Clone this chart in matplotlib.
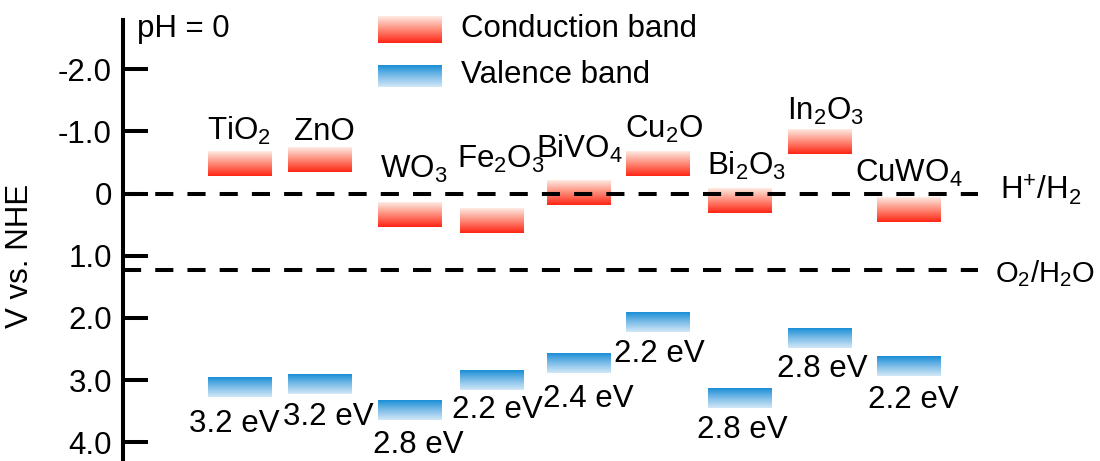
import numpy as np
import matplotlib
matplotlib.use("Agg")
import matplotlib.pyplot as plt
from matplotlib.colors import LinearSegmentedColormap

plt.rcParams["font.family"] = ["Liberation Sans", "DejaVu Sans"]
plt.rcParams["mathtext.fontset"] = "custom"
plt.rcParams["mathtext.rm"] = "Liberation Sans"

# --- data (V vs. NHE, pH = 0) ---
materials = [r"$\mathregular{TiO_2}$", "ZnO", r"$\mathregular{WO_3}$",
             r"$\mathregular{Fe_2O_3}$", r"$\mathregular{BiVO_4}$",
             r"$\mathregular{Cu_2O}$", r"$\mathregular{Bi_2O_3}$",
             r"$\mathregular{In_2O_3}$", r"$\mathregular{CuWO_4}$"]
cb_edge = [-0.28, -0.34, 0.54, 0.64, 0.19, -0.28, 0.31, -0.63, 0.45]
vb_edge = [2.95, 2.90, 3.32, 2.84, 2.56, 1.90, 3.12, 2.17, 2.61]
gap_labels = ["3.2 eV", "3.2 eV", "2.8 eV", "2.2 eV", "2.4 eV",
              "2.2 eV", "2.8 eV", "2.8 eV", "2.2 eV"]
h2_level = 0.0
o2_level = 1.23
yticks = [-2, -1, 0, 1, 2, 3, 4]
ytick_labels = ["-2.0", "-1.0", "0", "1.0", "2.0", "3.0", "4.0"]

# --- layout (x in pixel-like units) ---
x_center = [239.7, 319.7, 410, 492, 579, 658.3, 739.7, 819.7, 909]
bar_w = 64
cb_h, vb_h = 0.39, 0.32
name_x = [239, 324, 414, 501, 579, 664, 746, 826, 909]
name_y = [-0.86, -0.86, -0.25, -0.41, -0.58, -0.89, -0.30, -1.18, -0.18]
gap_x = [234, 328, 418, 497, 588, 659, 742, 822, 913]
gap_y = [3.84, 3.72, 4.17, 3.61, 3.43, 2.71, 3.93, 2.95, 3.45]

cb_cmap = LinearSegmentedColormap.from_list("cb", ["#fdebe3", "#fe8a78", "#ff2414"])
vb_cmap = LinearSegmentedColormap.from_list("vb", ["#1a8ed6", "#7dbde8", "#d2e8f7"])
grad = np.linspace(0, 1, 256).reshape(-1, 1)

FS = 22.5

fig = plt.figure(figsize=(11, 4.61), dpi=100)
ax = fig.add_axes([123 / 1100, 0, 1 - 123 / 1100, 441 / 461])


def gradient_bar(x0, y_top, y_bot, cmap):
    # image rows go top -> bottom since y axis is inverted
    im = ax.imshow(grad, cmap=cmap, aspect="auto", interpolation="bilinear",
                   extent=(x0, x0 + bar_w, y_bot, y_top), origin="upper")
    im.set_clip_on(False)


for i, name in enumerate(materials):
    x0 = x_center[i] - bar_w / 2
    gradient_bar(x0, cb_edge[i] - cb_h, cb_edge[i], cb_cmap)
    gradient_bar(x0, vb_edge[i], vb_edge[i] + vb_h, vb_cmap)
    ax.text(name_x[i], name_y[i], name, fontsize=FS, ha="center", va="baseline")
    ax.text(gap_x[i], gap_y[i], gap_labels[i], fontsize=FS, ha="center",
            va="baseline", clip_on=False)

# redox levels
for lvl in (h2_level, o2_level):
    ax.plot([123, 978], [lvl, lvl], color="black", lw=2.9, dashes=(4.5, 3.5),
            solid_capstyle="butt", dash_capstyle="butt", zorder=1)
ax.text(1000, 0.09, r"H$^{\mathregular{+}}$/H$_{\mathregular{2}}$", fontsize=FS,
        va="baseline", ha="left")
ax.text(995, 1.42, r"O$_{\mathregular{2}}$/H$_{\mathregular{2}}$O", fontsize=FS - 1.5,
        va="baseline", ha="left")

# legend (hand drawn)
gradient_bar(378, -2.84, -2.42, cb_cmap)
gradient_bar(378, -2.06, -1.71, vb_cmap)
ax.text(461, -2.51, "Conduction band", fontsize=FS, va="baseline", clip_on=False)
ax.text(461, -1.77, "Valence band", fontsize=FS, va="baseline")
ax.text(137, -2.51, "pH = 0", fontsize=FS, va="baseline", clip_on=False)

ax.set_xlim(123, 1100)
ax.set_ylim(4.30, -2.79)
for s in ("top", "right", "bottom"):
    ax.spines[s].set_visible(False)
ax.spines["left"].set_linewidth(2.9)
ax.set_xticks([])
ax.set_yticks(yticks)
ax.set_yticklabels(ytick_labels)
ax.tick_params(axis="y", direction="in", length=18, width=2.9, pad=8,
               labelsize=FS)
ax.set_ylabel("V vs. NHE", fontsize=FS)
ax.yaxis.set_label_coords(-88 / 977, (461 - 256) / 441)
ax.patch.set_visible(False)

fig.savefig("out.png", dpi=100)
